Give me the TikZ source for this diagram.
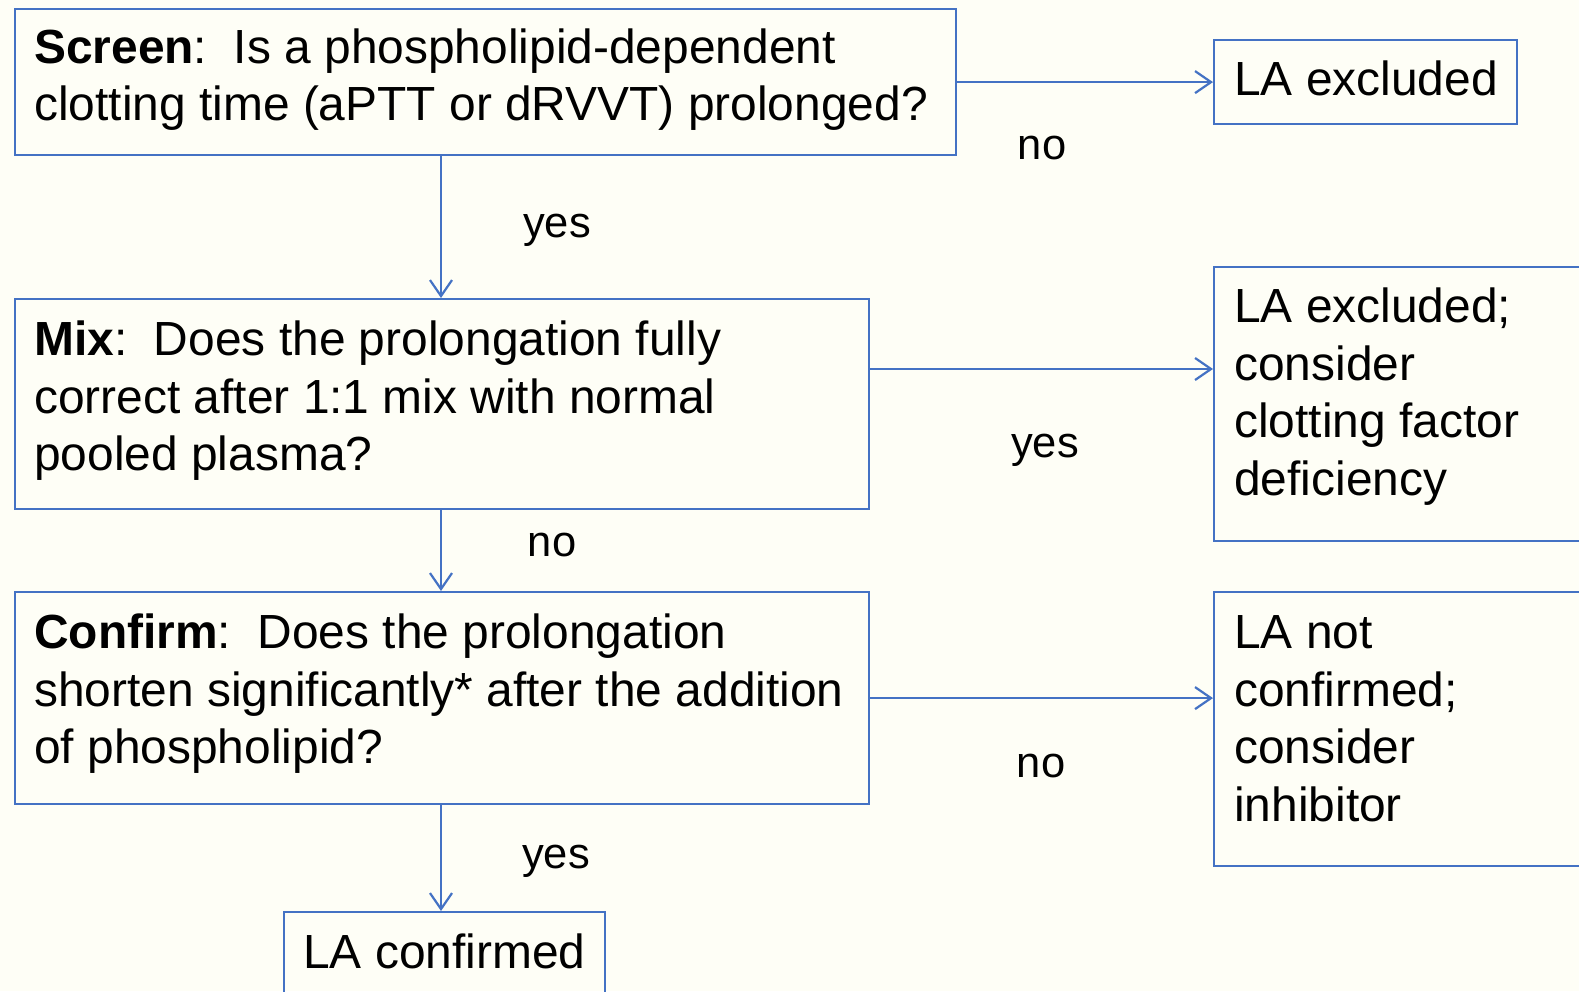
\documentclass[tikz,border=0pt]{standalone}
\usepackage{fontspec}
\setmainfont{Liberation Sans}
\usetikzlibrary{arrows.meta}
\definecolor{bl}{HTML}{4472C4}
\definecolor{bg}{HTML}{FEFEF6}
\begin{document}
\begin{tikzpicture}[x=1pt,y=-1pt,
 box/.style={draw=bl,line width=2.2pt,inner sep=0pt,anchor=north west},
 txt/.style={inner sep=0pt,anchor=base west,font=\fontsize{47.9}{57}\selectfont},
 lbl/.style={inner sep=0pt,font=\fontsize{43.5}{52}\selectfont},
 arr/.style={draw=bl,line width=2.2pt,-{Straight Barb[length=16pt,width=22pt,line width=2.2pt]}}]
\fill[bg] (0,0) rectangle (1579,991);
\useasboundingbox (0,0) rectangle (1579,991);
\clip (0,0) rectangle (1579,991);
% boxes
\node[box,minimum width=941pt,minimum height=146pt] (screen) at (14,8) {};
\node[box,minimum width=854pt,minimum height=210pt] (mix) at (14,298) {};
\node[box,minimum width=854pt,minimum height=212pt] (confirm) at (14,591) {};
\node[box,minimum width=303pt,minimum height=84pt] (laex) at (1213,38.5) {};
\node[box,minimum width=400pt,minimum height=274pt] (excl) at (1213,266) {};
\node[box,minimum width=400pt,minimum height=274pt] (notc) at (1213,591) {};
\node[box,minimum width=321pt,minimum height=110pt] (laconf) at (283,911) {};
% texts
\node[txt] (s1) at (34,63.5) {\textbf{Screen}:\ \ Is a phospholipid-dependent};
\node[txt] (s2) at (34,120.5) {clotting time (aPTT or dRVVT) prolonged?};
\node[txt] (m1) at (34,355.5) {\textbf{Mix}:\ \ Does the prolongation fully};
\node[txt] (m2) at (34,413) {correct after 1:1 mix with normal};
\node[txt] (m3) at (34,470) {pooled plasma?};
\node[txt] (c1) at (34,648.5) {\textbf{Confirm}:\ \ Does the prolongation};
\node[txt] (c2) at (34,706) {shorten significantly* after the addition};
\node[txt] (c3) at (34,763.5) {of phospholipid?};
\node[txt] (e0) at (1234,95.5) {LA excluded};
\node[txt] (e1) at (1234,322.5) {LA excluded;};
\node[txt] (e2) at (1234,380) {consider};
\node[txt] (e3) at (1234,437.5) {clotting factor};
\node[txt] (e4) at (1234,495) {deficiency};
\node[txt] (n1) at (1234,648.5) {LA not};
\node[txt] (n2) at (1234,706) {confirmed;};
\node[txt] (n3) at (1234,763.5) {consider};
\node[txt] (n4) at (1234,821) {inhibitor};
\node[txt] (k1) at (303,968) {LA confirmed};
% labels
\node[lbl] (l1) at (1042,148) {no};
\node[lbl] (l2) at (557,230) {yes};
\node[lbl] (l3) at (1045,450) {yes};
\node[lbl] (l4) at (552,545) {no};
\node[lbl] (l5) at (1041,766) {no};
\node[lbl] (l6) at (556,861) {yes};
% connectors
\coordinate (vx) at (441,0);
\coordinate (my) at (0,369);
\draw[arr] (screen.east) -- (laex.west |- screen.east);
\draw[arr] (screen.south -| vx) -- (mix.north -| vx);
\draw[arr] (mix.east |- my) -- (excl.west |- my);
\draw[arr] (mix.south -| vx) -- (confirm.north -| vx);
\draw[arr] (confirm.east) -- (notc.west |- confirm.east);
\draw[arr] (confirm.south -| vx) -- (laconf.north -| vx);
\end{tikzpicture}
\end{document}
